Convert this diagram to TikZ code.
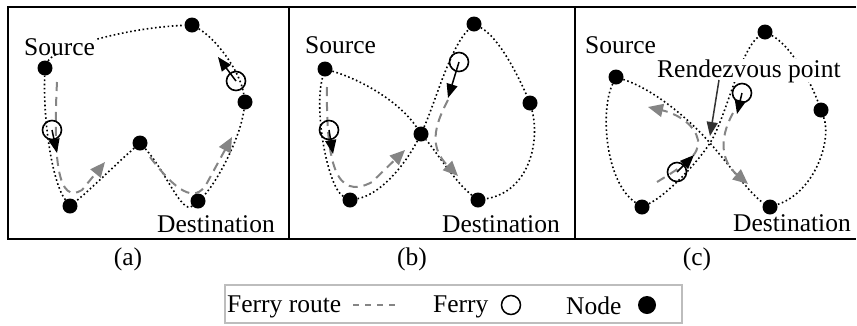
\documentclass[tikz,border=0pt]{standalone}
\usepackage{fontspec}
\setmainfont{Liberation Serif}
\usetikzlibrary{arrows.meta}
\definecolor{routegray}{HTML}{858585}
\definecolor{framegray}{HTML}{BDBDBD}
\definecolor{pointer}{HTML}{333333}
\begin{document}
\begin{tikzpicture}[x=1pt,y=-1pt,
  font=\fontsize{25.5}{30}\selectfont,
  dot/.style={circle,fill=black,inner sep=0pt,minimum size=15pt},
  ferry/.style={circle,draw=black,line width=1.6pt,inner sep=0pt,minimum size=19pt},
  route/.style={line width=1.6pt,dash pattern=on 1.6pt off 2.6pt},
  trail/.style={routegray,line width=2pt,dash pattern=on 9pt off 6pt,-{Triangle[length=15pt,width=13pt]}},
  heading/.style={line width=1.5pt,-{Triangle[length=14pt,width=11pt]}},
  lbl/.style={inner sep=0pt,anchor=base west},
  mask/.style={lbl,fill=white},
]
\useasboundingbox (0,0) rectangle (857,325);

% ---------- frame with three panels ----------
\draw[line width=2pt] (856,7) -- (8,7) -- (8,239) -- (856,239);
\draw[line width=2pt] (289,7) -- (289,239);
\draw[line width=2pt] (575,7) -- (575,239);

% ---------- panel (a) ----------
\node[dot] (a1) at (45,68) {};
\node[dot] (a2) at (192,25) {};
\node[dot] (a3) at (245,102) {};
\node[dot] (a4) at (140,143) {};
\node[dot] (a5) at (70,206) {};
\node[dot] (a6) at (198,201) {};
\draw[route] (a1) .. controls (53,50) and (120,28) .. (a2)
             .. controls (215,38) and (240,70) .. (a3)
             .. controls (240,140) and (215,185) .. (a6);
\draw[route] (a6) .. controls (182,215) and (165,170) .. (a4)
             .. controls (115,165) and (90,190) .. (a5)
             .. controls (52,182) and (43,120) .. (a1);
\coordinate (at1s) at (57,82);
\coordinate (at1e) at (105,162);
\coordinate (at2s) at (150,157);
\coordinate (at2e) at (232,137);
\draw[trail] (at1s) .. controls (53,160) and (58,205) .. (82,190) -- (at1e);
\draw[trail] (at2s) .. controls (175,190) and (195,205) .. (207,183) -- (at2e);
\node[ferry] (af1) at (52,130) {};
\node[ferry] (af2) at (236,81) {};
\coordinate (ah1) at (57,153);
\coordinate (ah2) at (218,57);
\draw[heading] (af1.center) -- (ah1);
\draw[heading] (af2.center) -- (ah2);
\node[mask] (asrc) at (24,55) {Source};
\node[lbl] (adst) at (157,232) {Destination};
\node (acap) at (128,259) {(a)};

% ---------- panel (b) ----------
\node[dot] (b1) at (325,69) {};
\node[dot] (b2) at (474,24) {};
\node[dot] (b3) at (530,103) {};
\node[dot] (bc) at (421,134) {};
\node[dot] (b5) at (350,200) {};
\node[dot] (b6) at (478,200) {};
\draw[route] (b1) .. controls (362,80) and (400,102) .. (bc)
             .. controls (402,170) and (378,195) .. (b5)
             .. controls (328,188) and (313,110) .. (b1);
\draw[route] (bc) .. controls (436,100) and (450,48) .. (b2)
             .. controls (500,38) and (520,80) .. (b3)
             .. controls (540,140) and (530,192) .. (b6)
             .. controls (455,182) and (435,150) .. (bc);
\coordinate (bt1s) at (327,87);
\coordinate (bt1e) at (405,150);
\coordinate (bt2s) at (448,100);
\coordinate (bt2e) at (458,176);
\draw[trail] (bt1s) .. controls (326,160) and (335,202) .. (372,182) -- (bt1e);
\draw[trail] (bt2s) .. controls (433,128) and (430,148) .. (bt2e);
\node[ferry] (bf1) at (329,130) {};
\node[ferry] (bf2) at (459,62) {};
\coordinate (bh1) at (333,154);
\coordinate (bh2) at (448,98);
\draw[heading] (bf1.center) -- (bh1);
\draw[heading] (bf2.center) -- (bh2);
\node[lbl] (bsrc) at (305,53) {Source};
\node[lbl] (bdst) at (442,232) {Destination};
\node (bcap) at (412,259) {(b)};

% ---------- panel (c) ----------
\node[dot] (c1) at (616,77) {};
\node[dot] (c2) at (765,32) {};
\node[dot] (c3) at (821,110) {};
\node[dot] (c5) at (642,207) {};
\node[dot] (c6) at (770,207) {};
\coordinate (cx) at (710,143);
\draw[route] (c1) .. controls (655,90) and (690,120) .. (cx)
             .. controls (730,166) and (752,196) .. (c6);
\draw[route] (c5) .. controls (665,196) and (695,166) .. (cx)
             .. controls (726,118) and (740,50) .. (c2);
\draw[route] (c1) .. controls (600,110) and (605,182) .. (c5);
\draw[route] (c2) .. controls (790,45) and (810,80) .. (c3)
             .. controls (832,140) and (815,192) .. (c6);
\coordinate (ct1s) at (657,182);
\coordinate (ct1e) at (648,107);
\coordinate (ct2s) at (733,113);
\coordinate (ct2e) at (748,184);
\draw[trail] (ct1s) .. controls (685,165) and (700,155) .. (698,140)
             .. controls (695,125) and (678,114) .. (ct1e);
\draw[trail] (ct2s) .. controls (718,140) and (722,162) .. (ct2e);
\node[ferry] (cf1) at (742,93) {};
\node[ferry] (cf2) at (677,172) {};
\coordinate (ch1) at (737,114);
\coordinate (ch2) at (694,155);
\draw[heading] (cf1.center) -- (ch1);
\draw[heading] (cf2.center) -- (ch2);
\node[lbl] (csrc) at (585,53) {Source};
\node[lbl] (cdst) at (733,231) {Destination};
\node[mask] (crdv) at (657,77) {Rendezvous point};
\coordinate (crdvtip) at (710,136);
\draw[pointer,line width=1.5pt,-{Triangle[length=14pt,width=11pt]}]
  (719,80) -- (crdvtip);
\node (ccap) at (697,259) {(c)};

% ---------- legend ----------
\draw[framegray,line width=2pt] (225,285) rectangle (682,323);
\node[lbl] (lroute) at (227,312) {Ferry route};
\coordinate (ld1) at (353,305);
\coordinate (ld2) at (396,305);
\draw[routegray,line width=1.2pt,dash pattern=on 6pt off 6pt] (ld1) -- (ld2);
\node[lbl] (lferry) at (433,312) {Ferry};
\node[circle,draw=black,line width=1.5pt,inner sep=0pt,minimum size=19pt] (lcirc) at (511,305) {};
\node[lbl] (lnode) at (566,314) {Node};
\node[circle,fill=black,inner sep=0pt,minimum size=18pt] (ldot) at (647,305) {};
\end{tikzpicture}
\end{document}
